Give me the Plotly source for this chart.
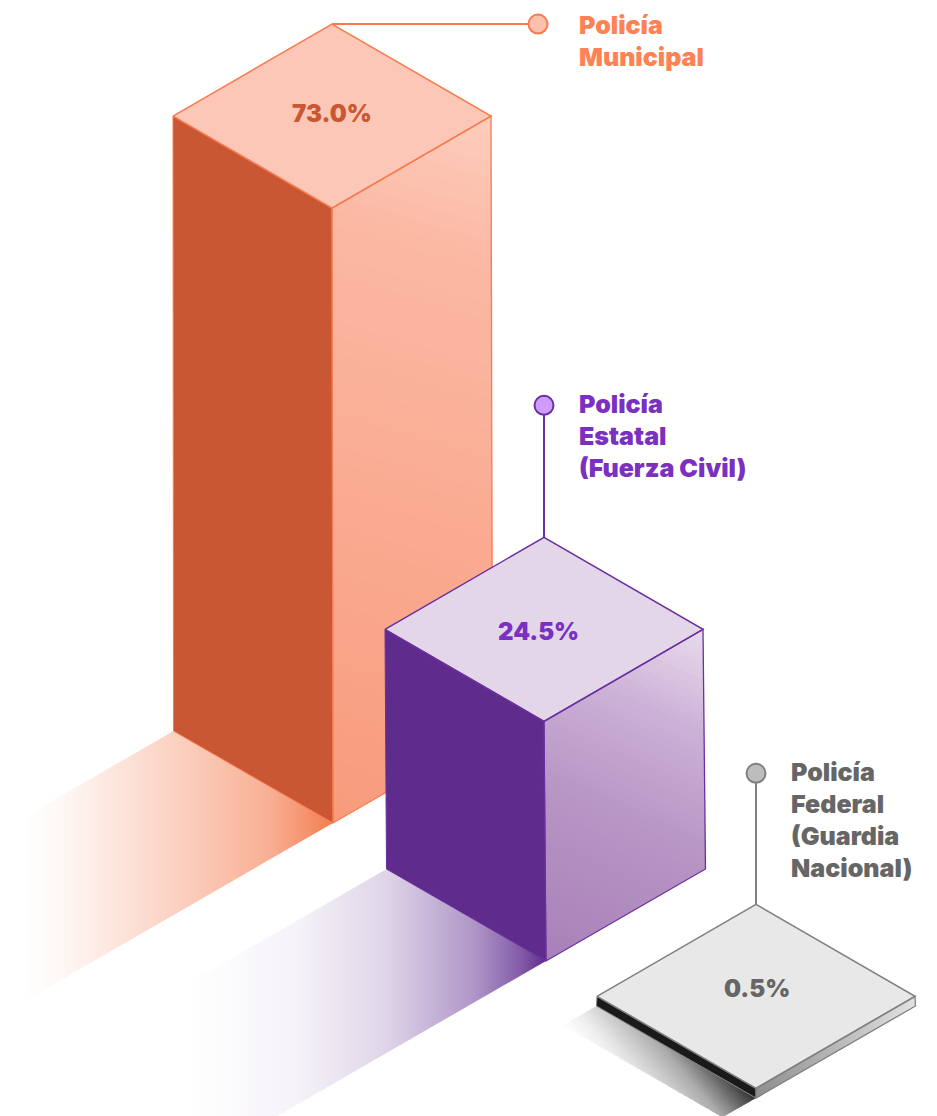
import plotly.graph_objects as go

# ---- data ----
categories = [["Policía", "Municipal"], ["Policía", "Estatal", "(Fuerza Civil)"], ["Policía", "Federal", "(Guardia", "Nacional)"]]
values = [73.0, 24.5, 0.5]

# ---- layout / style ----
W, H = 937, 1116
FONT = "Inter"
FONT_SIZE = 25
VALUE_SIZE = 24
LINE_STEP = 32
HALF_W, HALF_H = 159.5, 92
foot_x = [333, 546, 756]       # front-bottom corner of each block
foot_y = [823, 961, 1098]
top_skew = [-1, -2, 0]         # the top sits slightly left of the foot
shadow_left = [25, 190, 563]   # where each floor shadow fades out
styles = [
    dict(line="#f97a4f", top="#fcc7b7", left="#c95733", label="#ff8154", value="#c95733", dot="#fcc0ac",
         side=[(0, "#fdcdbe"), (0.2, "#fbb8a3"), (1, "#f89b7d")], sidedir=-0.3,
         shadow=[(0, "rgba(244,125,80,0)"), (0.12, "rgba(244,125,80,0.06)"), (0.5, "rgba(244,125,80,0.36)"),
                 (0.8, "rgba(244,125,80,0.62)"), (1, "rgba(244,125,80,1)")]),
    dict(line="#6a2fa0", top="#e3d6e9", left="#5f2c8e", label="#7a30c0", value="#7a30c0", dot="#d09bff",
         side=[(0, "#e6dbeb"), (0.12, "#dcc8e2"), (0.25, "#cdb2d8"), (0.55, "#b896c5"), (1, "#a981b8")], sidedir=-0.45,
         shadow=[(0, "rgba(95,44,142,0)"), (0.3, "rgba(95,44,142,0.06)"), (0.55, "rgba(95,44,142,0.2)"),
                 (0.8, "rgba(95,44,142,0.5)"), (0.93, "rgba(95,44,142,0.78)"), (1, "rgba(95,44,142,1)")]),
    dict(line="#808080", top="#e8e8e8", left="#1a1a1a", label="#666666", value="#666666", dot="#bdbdbd",
         side=[(0, "#8e8e8e"), (1, "#e2e2e2")], sidedir=None,
         shadow=[(0, "#303030"), (0.15, "#606060"), (0.38, "#aaaaaa"), (0.6, "#d0d0d0"), (0.8, "#eeeeee"), (1, "#ffffff")]),
]
leaders = [(206, 0), (0, -132), (0, -131)]        # apex -> dot
label_offset = [(38.5, 1), (32.5, -1), (32.5, -1)]  # dot -> first label line
value_offset = [(0, 89), (-6, 94), (1, 84)]       # apex -> value label


def height_px(v):
    """Scale of the picture: not proportional, a compressive power scale."""
    return 14.9 * v ** 0.8665 + 1.5


def hex_rgb(c):
    return tuple(int(c[i:i + 2], 16) for i in (1, 3, 5))


def mix(stops, t):
    t = max(0, min(1, t))
    for (a, ca), (b, cb) in zip(stops, stops[1:]):
        if t <= b:
            f = (t - a) / (b - a)
            ra, rb = hex_rgb(ca), hex_rgb(cb)
            return "rgb(%d,%d,%d)" % tuple(round(ra[i] + f * (rb[i] - ra[i])) for i in range(3))
    return stops[-1][1]


def clip(poly, dx, level, keep_above):
    """Clip polygon to p >= level or p <= level with p = dx*x + y."""
    out = []
    f = lambda q: (dx * q[0] + q[1] - level) * (1 if keep_above else -1)
    for i, a in enumerate(poly):
        b = poly[(i + 1) % len(poly)]
        fa, fb = f(a), f(b)
        if fa >= 0:
            out.append(a)
        if fa * fb < 0:
            s = fa / (fa - fb)
            out.append((a[0] + s * (b[0] - a[0]), a[1] + s * (b[1] - a[1])))
    return out


fig = go.Figure()


def poly(points, fill=None, line=None, width=1.2, grad=None):
    xs = [p[0] for p in points] + [points[0][0]]
    ys = [p[1] for p in points] + [points[0][1]]
    kw = dict(x=xs, y=ys, mode="lines", fill="toself", hoverinfo="skip", showlegend=False,
              line=dict(color=line or "rgba(0,0,0,0)", width=width if line else 0))
    if grad:
        kw["fillgradient"] = grad
        kw["fillcolor"] = "rgba(0,0,0,0)"
    else:
        kw["fillcolor"] = fill
    fig.add_trace(go.Scatter(**kw))


def diagonal_face(points, stops, dx, n=48):
    ps = [dx * p[0] + p[1] for p in points]
    lo, hi = min(ps), max(ps)
    step = (hi - lo) / n
    for k in range(n):
        band = clip(points, dx, lo + k * step, True)
        band = clip(band, dx, lo + (k + 1) * step + 1.2, False) if band else band
        if len(band) >= 3:
            poly(band, fill=mix(stops, (k + 0.5) / n))


for i, (v, st) in enumerate(zip(values, styles)):
    h = height_px(v)
    fx, fy = foot_x[i], foot_y[i]
    sk = top_skew[i]
    lb = (fx - HALF_W, fy - HALF_H)   # bottom-left
    rb = (fx + HALF_W, fy - HALF_H)   # bottom-right
    f_b = (fx, fy)
    f_t = (fx + sk, fy - h)
    lt, rt = (f_t[0] - HALF_W + .5, f_t[1] - HALF_H), (f_t[0] + HALF_W - .5, f_t[1] - HALF_H)
    apex = (f_t[0], f_t[1] - 2 * HALF_H)

    # floor shadow
    sl = shadow_left[i]
    rise = HALF_H / HALF_W
    if i < 2:
        poly([lb, f_b, (sl, fy + (fx - sl) * rise), (sl, lb[1] + (lb[0] - sl) * rise)],
             grad=dict(type="horizontal", start=sl, stop=fx, colorscale=[list(s) for s in st["shadow"]]))
    else:
        run = lb[0] - sl
        diagonal_face([lb, f_b, (fx - run, fy + run * rise), (sl, lb[1] + run * rise)], st["shadow"], -1.18)

    # faces
    poly([lt, f_t, f_b, lb], fill=st["left"])
    if st["sidedir"] is None:
        poly([f_t, rt, rb, f_b], grad=dict(type="horizontal", colorscale=[list(s) for s in st["side"]]))
    else:
        diagonal_face([f_t, rt, rb, f_b], st["side"], st["sidedir"])
    # edges
    poly([lt, apex, rt, f_t], fill=st["top"], line=st["line"], width=1.5)
    poly([f_t, rt, rb, f_b], fill="rgba(0,0,0,0)", line=st["line"], width=1.3)
    poly([lt, f_t, f_b, lb], fill="rgba(0,0,0,0)", line=st["line"], width=1.0)

    # leader + dot
    ldx, ldy = leaders[i]
    dot = (apex[0] + ldx, apex[1] + ldy)
    fig.add_trace(go.Scatter(x=[apex[0], dot[0]], y=[apex[1], dot[1]], mode="lines", hoverinfo="skip",
                             showlegend=False, line=dict(color=st["line"], width=2)))
    fig.add_trace(go.Scatter(x=[dot[0]], y=[dot[1]], mode="markers", hoverinfo="skip", showlegend=False,
                             marker=dict(size=19, color=st["dot"], line=dict(color=st["line"], width=2))))

    # value label
    ox, oy = value_offset[i]
    fig.add_annotation(x=apex[0] + ox, y=apex[1] + oy, text=f"{v:.1f}%", showarrow=False,
                       xanchor="center", yanchor="middle",
                       font=dict(family=FONT, size=VALUE_SIZE, color=st["value"], weight=900))
    # category label, one line at a time
    lx, ly = label_offset[i]
    for j, line_text in enumerate(categories[i]):
        fig.add_annotation(x=dot[0] + lx, y=dot[1] + ly + j * LINE_STEP, text=line_text, showarrow=False, align="left",
                           xanchor="left", yanchor="middle",
                           font=dict(family=FONT, size=FONT_SIZE, color=st["label"], weight=900))

fig.update_layout(
    width=W, height=H, margin=dict(l=0, r=0, t=0, b=0), showlegend=False,
    paper_bgcolor="white", plot_bgcolor="white",
    xaxis=dict(range=[0, W], visible=False, fixedrange=True),
    yaxis=dict(range=[H, 0], visible=False, fixedrange=True),
)
fig.write_html("out.html", config=dict(displayModeBar=False),
               post_script="document.body.style.margin='0';")
